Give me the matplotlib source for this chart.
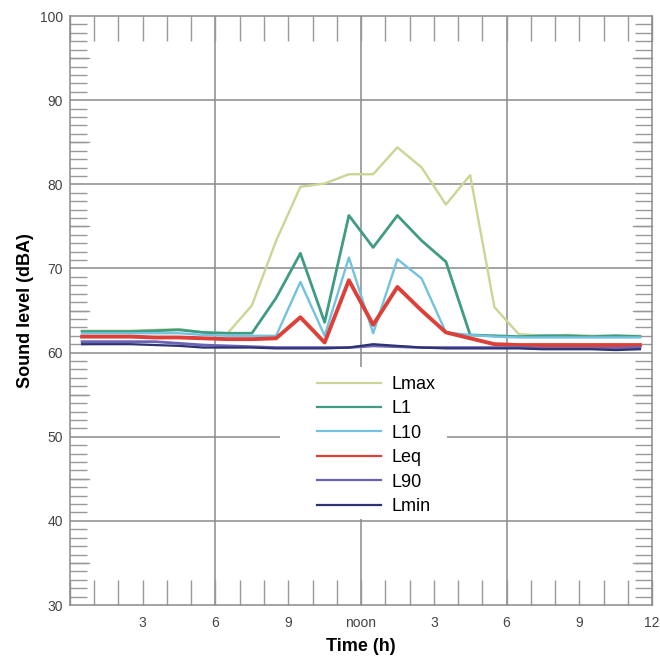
import numpy as np
import matplotlib.pyplot as plt
from matplotlib.ticker import MultipleLocator
from matplotlib.patches import Rectangle

plt.rcParams['font.family'] = ['Liberation Sans', 'DejaVu Sans']

# hourly averages, plotted at the half hour
hours = np.arange(24) + 0.5
lmax = [62.6, 62.6, 62.6, 62.7, 62.8, 62.4, 62.3, 65.6, 73.3, 79.7, 80.1, 81.2,
        81.2, 84.4, 82.0, 77.6, 81.1, 65.4, 62.2, 62.0, 62.1, 62.0, 62.0, 62.0]
l1 = [62.5, 62.5, 62.5, 62.6, 62.7, 62.4, 62.3, 62.3, 66.5, 71.8, 63.6, 76.3,
      72.5, 76.3, 73.3, 70.8, 62.1, 62.0, 61.9, 62.0, 62.0, 61.9, 62.0, 61.9]
l10 = [62.3, 62.3, 62.3, 62.3, 62.3, 62.1, 62.0, 62.0, 62.0, 68.4, 62.0, 71.3,
       62.3, 71.1, 68.8, 62.4, 62.1, 61.9, 61.8, 61.8, 61.8, 61.8, 61.8, 61.8]
leq = [61.9, 61.9, 61.9, 61.8, 61.8, 61.7, 61.6, 61.6, 61.7, 64.2, 61.2, 68.6,
       63.3, 67.8, 65.0, 62.4, 61.7, 61.0, 60.9, 60.9, 60.9, 60.9, 60.9, 60.9]
l90 = [61.3, 61.3, 61.3, 61.3, 61.1, 60.9, 60.8, 60.7, 60.6, 60.6, 60.6, 60.6,
       60.8, 60.7, 60.6, 60.6, 60.6, 60.6, 60.6, 60.5, 60.5, 60.5, 60.5, 60.6]
lmin = [61.0, 61.0, 61.0, 60.9, 60.8, 60.6, 60.6, 60.6, 60.5, 60.5, 60.5, 60.6,
        61.0, 60.8, 60.6, 60.5, 60.5, 60.5, 60.5, 60.4, 60.4, 60.4, 60.3, 60.4]

series = [
    ('Lmax', lmax, '#cdd494', 1.7),
    ('L1', l1, '#3f9c83', 2.0),
    ('L10', l10, '#72c3df', 1.7),
    ('Leq', leq, '#dc4038', 2.8),
    ('L90', l90, '#6a64b4', 2.0),
    ('Lmin', lmin, '#2d3372', 1.6),
]

xtick_pos = [3, 6, 9, 12, 15, 18, 21, 24]
xtick_lab = ['3', '6', '9', 'noon', '3', '6', '9', '12']

fig = plt.figure(figsize=(6.6, 6.61), dpi=100)
ax = fig.add_axes([0.106, 0.0847, 0.882, 0.891])

for name, vals, col, lw in series:
    ax.plot(hours, vals, color=col, lw=lw, label=name, zorder=3)

ax.set_xlim(0, 24)
ax.set_ylim(30, 100)

# grid
for gx in [6, 12, 18]:
    ax.axvline(gx, color='#8a8a8a', lw=1.1, zorder=1)
for gy in range(40, 100, 10):
    ax.axhline(gy, color='#8a8a8a', lw=1.1, zorder=1)

# white patch behind the legend hides the grid
ax.add_patch(Rectangle((8.65, 40.25), 6.9, 18.0, facecolor='white',
                       edgecolor='none', zorder=2))

ax.set_xticks(xtick_pos)
ax.set_xticklabels(xtick_lab)
ax.xaxis.set_minor_locator(MultipleLocator(1))
ax.yaxis.set_major_locator(MultipleLocator(10))
ax.yaxis.set_minor_locator(MultipleLocator(1))
ax.tick_params(axis='x', which='both', direction='in', top=True, length=18,
               width=1, color='#999999', labelsize=10, labelcolor='#444444', pad=8)
ax.tick_params(axis='y', which='major', direction='in', right=True, length=0,
               labelsize=10, labelcolor='#444444', pad=5)
ax.tick_params(axis='y', which='minor', direction='in', right=True, length=12,
               width=1, color='#999999')
# longer minor ticks at the 5s
for y5 in range(35, 100, 10):
    ax.plot([0, 0.8], [y5, y5], color='#999999', lw=1, zorder=2, clip_on=False)
    ax.plot([23.2, 24], [y5, y5], color='#999999', lw=1, zorder=2, clip_on=False)

for s in ax.spines.values():
    s.set_color('#8a8a8a')
    s.set_linewidth(1.1)

ax.set_xlabel('Time (h)', fontsize=13, fontweight='bold', labelpad=6)
ax.set_ylabel('Sound level (dBA)', fontsize=13, fontweight='bold', labelpad=4)

leg = ax.legend(loc='upper left', bbox_to_anchor=(0.424, 0.389), frameon=False,
                fontsize=13, handlelength=3.55, handletextpad=0.6,
                labelspacing=0.41, borderpad=0, borderaxespad=0)
leg.set_zorder(5)
for line in leg.get_lines():
    line.set_linewidth(1.6)

fig.savefig('out.png', dpi=100)
